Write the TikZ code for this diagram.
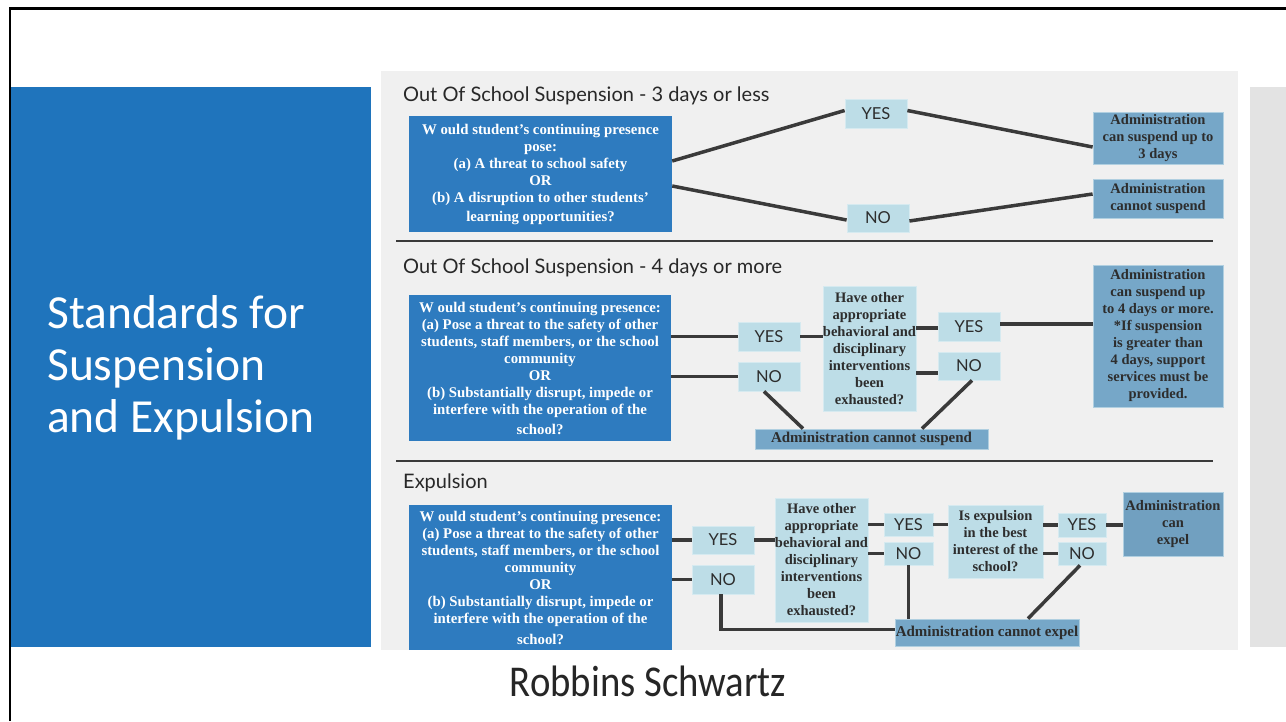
\documentclass[tikz,border=0pt]{standalone}
\usepackage{fontspec}
\setmainfont{Liberation Serif}
\newfontfamily\latofont{Lato}
\newfontfamily\carlitofont{Carlito}
\usetikzlibrary{calc}
\definecolor{qblue}{RGB}{46,123,191}
\definecolor{panelblue}{RGB}{31,116,188}
\definecolor{lightb}{RGB}{189,221,231}
\definecolor{lightedge}{RGB}{214,234,240}
\definecolor{resb}{RGB}{118,167,200}
\definecolor{chartbg}{RGB}{240,240,240}
\definecolor{sidebg}{RGB}{227,227,227}
\definecolor{linec}{RGB}{58,58,58}
\definecolor{darktxt}{RGB}{45,45,45}
\definecolor{headtxt}{RGB}{40,40,40}
\begin{document}
\begin{tikzpicture}[x=1pt,y=-1pt,
  qbox/.style={fill=qblue, text=white, inner sep=0pt, align=center,
    font=\bfseries\fontsize{14.8}{17}\selectfont},
  lbox/.style={fill=lightb, draw=lightedge, line width=0.8pt, text=darktxt, inner sep=0pt, align=center,
    font=\bfseries\fontsize{14.5}{17}\selectfont},
  rbox/.style={fill=resb, draw=lightedge!60!resb, line width=0.8pt, text=darktxt, inner sep=0pt, align=center,
    font=\bfseries\fontsize{14.5}{17}\selectfont},
  yn/.style={fill=lightb, draw=lightedge, line width=0.8pt, text=darktxt, inner sep=0pt,
    font=\latofont\fontsize{16.5}{16.5}\selectfont},
  conn/.style={draw=linec, line width=3.5pt},
  divline/.style={draw=linec, line width=2.5pt},
  head/.style={anchor=base west, inner sep=0pt, text=headtxt,
    font=\latofont\fontsize{20}{20}\selectfont},
  ttl/.style={anchor=base west, inner sep=0pt, text=white,
    font=\carlitofont\fontsize{47.5}{47.5}\selectfont},
]
\useasboundingbox (0,0) rectangle (1286,721);
\fill[white] (0,0) rectangle (1286,721);
% frame
\draw[black, line width=2.5pt] (10,721) -- (10,8.5) -- (1286,8.5);
% left blue panel
\fill[panelblue] (11,87) rectangle (371,647);
\node[ttl] (t1) at (47,328) {Standards for};
\node[ttl] (t2) at (47,380) {Suspension};
\node[ttl] (t3) at (47,432) {and Expulsion};
% backgrounds
\fill[chartbg] (381,71) rectangle (1238,650);
\fill[sidebg] (1250,87) rectangle (1286,647);
% dividers
\draw[divline] (396,241) -- (1213,241);
\draw[divline] (396,461) -- (1213,461);

% ---------- section 1 ----------
\node[head] (h1) at (403,101) {Out Of School Suspension - 3 days or less};
\node[qbox, minimum width=263pt, minimum height=116pt] (q1) at (540.5,174)
  {W ould student’s continuing presence\\pose:\\(a) A threat to school safety\\OR\\(b) A disruption to other students'\\[2pt]learning opportunities?};
\node[yn, minimum width=62pt, minimum height=29pt] (yes1) at (876,113.5) {YES};
\node[yn, minimum width=62pt, minimum height=28pt] (no1) at (878,218) {NO};
\node[rbox, minimum width=130pt, minimum height=52pt] (r1) at (1158,138)
  {Administration\\can suspend up to\\3 days};
\node[rbox, minimum width=130pt, minimum height=39pt] (r2) at (1158,198.5)
  {Administration\\cannot suspend};
\draw[conn] ([yshift=13pt]q1.east) -- ([yshift=3pt]yes1.west);
\draw[conn] ([yshift=-12pt]q1.east) -- ([yshift=-2pt]no1.west);
\draw[conn] ([yshift=3pt]yes1.east) -- ([yshift=-9pt]r1.west);
\draw[conn] ([yshift=-3pt]no1.east) -- ([yshift=4.5pt]r2.west);

% ---------- section 2 ----------
\node[head] (h2) at (403,273) {Out Of School Suspension - 4 days or more};
\node[qbox, minimum width=262pt, minimum height=146pt] (q2) at (540,368)
  {W ould student’s continuing presence:\\(a) Pose a threat to the safety of other\\students, staff members, or the school\\community\\OR\\(b) Substantially disrupt, impede or\\interfere with the operation of the\\[3pt]school?};
\node[yn, minimum width=62pt, minimum height=29pt] (ya2) at (769,336.5) {YES};
\node[yn, minimum width=62pt, minimum height=29pt] (na2) at (769,376.5) {NO};
\node[lbox, minimum width=93pt, minimum height=125pt] (ho2) at (869.5,348.5)
  {Have other\\appropriate\\behavioral and\\disciplinary\\interventions\\been\\exhausted?};
\node[yn, minimum width=62pt, minimum height=29pt] (yb2) at (969,326.5) {YES};
\node[yn, minimum width=62pt, minimum height=28pt] (nb2) at (969,366) {NO};
\node[rbox, minimum width=130pt, minimum height=142pt] (r3) at (1158,336)
  {Administration\\can suspend up\\to 4 days or more.\\*If suspension\\is greater than\\4 days, support\\services must be\\provided.};
\node[rbox, minimum width=233pt, minimum height=20pt, font=\bfseries\fontsize{15}{15}\selectfont] (cs) at (871.5,439)
  {Administration cannot suspend};
\draw[conn] (q2.east |- ya2.west) -- (ya2.west);
\draw[conn] (q2.east |- na2.west) -- (na2.west);
\draw[conn] (ya2.east) -- (ho2.west |- ya2.east);
\draw[conn] ([yshift=-1.5pt]ho2.east |- yb2.west) -- ([yshift=-1.5pt]yb2.west);
\draw[conn] ([yshift=-7pt]ho2.east |- nb2.west) -- ([yshift=-7pt]nb2.west);
\draw[conn] ([yshift=2.5pt]yb2.east) -- ([yshift=2.5pt]r3.west |- yb2.east);
\draw[conn] ([xshift=-5pt]na2.south) -- ([xshift=-68.5pt]cs.north);
\draw[conn] ([xshift=3pt]nb2.south) -- ([xshift=50.5pt]cs.north);

% ---------- section 3 ----------
\node[head] (h3) at (403,488) {Expulsion};
\node[qbox, minimum width=263pt, minimum height=145pt] (q3) at (540.5,577.5)
  {W ould student’s continuing presence:\\(a) Pose a threat to the safety of other\\students, staff members, or the school\\community\\OR\\(b) Substantially disrupt, impede or\\interfere with the operation of the\\[4pt]school?};
\node[yn, minimum width=62pt, minimum height=28pt] (ya3) at (723,540) {YES};
\node[yn, minimum width=62pt, minimum height=29pt] (na3) at (723,579.5) {NO};
\node[lbox, minimum width=93pt, minimum height=124pt] (ho3) at (821.5,560)
  {Have other\\appropriate\\behavioral and\\disciplinary\\interventions\\been\\exhausted?};
\node[yn, minimum width=49pt, minimum height=23pt] (yb3) at (908.5,524.5) {YES};
\node[yn, minimum width=49pt, minimum height=23pt] (nb3) at (908.5,553.5) {NO};
\node[lbox, minimum width=95pt, minimum height=73pt] (ie) at (995.5,541.5)
  {Is expulsion\\in the best\\interest of the\\school?};
\node[yn, minimum width=48pt, minimum height=24pt] (yc3) at (1082,525) {YES};
\node[yn, minimum width=48pt, minimum height=23pt] (nc3) at (1082,553.5) {NO};
\node[rbox, minimum width=100pt, minimum height=64pt, fill=resb!96!black] (r5) at (1173,524)
  {Administration\\can\\expel};
\node[rbox, minimum width=184pt, minimum height=27pt, font=\bfseries\fontsize{15}{15}\selectfont] (ce) at (987,632.5)
  {Administration cannot expel};
\draw[conn] (q3.east |- ya3.west) -- (ya3.west);
\draw[conn] (q3.east |- na3.west) -- (na3.west);
\draw[conn] (ya3.east) -- (ho3.west |- ya3.east);
\draw[conn] (ho3.east |- yb3.west) -- (yb3.west);
\draw[conn] (ho3.east |- nb3.west) -- (nb3.west);
\draw[conn] (yb3.east) -- (ie.west |- yb3.east);
\draw[conn] (ie.east |- yc3.west) -- (yc3.west);
\draw[conn] (ie.east |- nc3.west) -- (nc3.west);
\draw[conn] (yc3.east) -- (r5.west |- yc3.east);
\draw[conn] ([xshift=-2pt]na3.south) -- ([xshift=-2pt,yshift=3pt]na3.south |- ce.west) -- ([yshift=3pt]ce.west);
\draw[conn] (nb3.south) -- (nb3.south |- ce.north);
\draw[conn] ([xshift=-2pt]nc3.south) -- ([xshift=41pt]ce.north);

% footer
\node[anchor=base, inner sep=0pt, text=black!85, font=\carlitofont\fontsize{44}{44}\selectfont] (rs) at (648,696)
  {\scalebox{0.88}[1]{Robbins Schwartz}};
\end{tikzpicture}
\end{document}
